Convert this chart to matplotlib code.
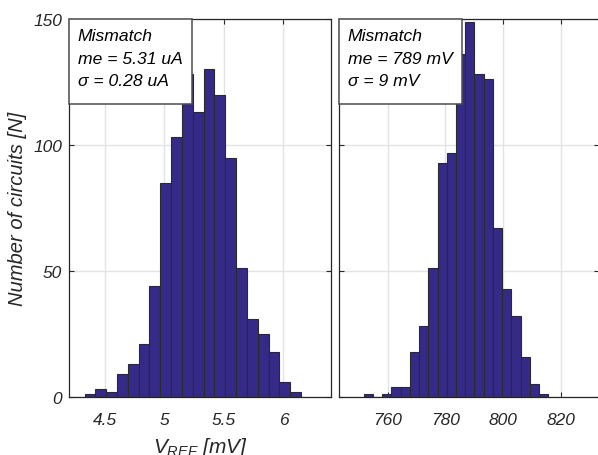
import numpy as np
import matplotlib
matplotlib.use('Agg')
import matplotlib.pyplot as plt
from matplotlib.patches import Rectangle

# ---------------------
# Dados
# ---------------------
# painel esquerdo (20 bins)
bins_esq_ini = 4.328
bins_esq_larg = 0.091
contagem_esq = [1, 3, 2, 9, 13, 21, 44, 85, 103, 128,
                113, 130, 120, 95, 51, 31, 25, 18, 6, 2]
texto_esq = ['Mismatch', 'me = 5.31 uA', 'σ = 0.28 uA']

# painel direito: V_REF em mV (20 bins)
bins_dir_ini = 751.8
bins_dir_larg = 3.19
contagem_dir = [1, 0, 1, 4, 4, 18, 28, 51, 93, 97,
                136, 149, 128, 126, 67, 43, 32, 16, 5, 1]
texto_dir = ['Mismatch', 'me = 789 mV', 'σ = 9 mV']

yticks = [0, 50, 100, 150]
xticks_esq = [4.5, 5, 5.5, 6]
xticks_dir = [760, 780, 800, 820]

plt.rcParams['font.family'] = ['Liberation Sans', 'DejaVu Sans']
plt.rcParams['font.style'] = 'italic'
plt.rcParams['mathtext.fontset'] = 'custom'
plt.rcParams['mathtext.it'] = 'Liberation Sans:italic'
plt.rcParams['mathtext.rm'] = 'Liberation Sans:italic'

COR_BARRA = '#352a87'
COR_TXT = '#262626'

W, H = 598, 456
fig = plt.figure(figsize=(W / 100, H / 100), dpi=100)

def px_axes(x0, x1, y0, y1):
    return fig.add_axes([x0 / W, 1 - y1 / H, (x1 - x0) / W, (y1 - y0) / H])

ax1 = px_axes(69.3, 331, 20, 398)
ax2 = px_axes(339.3, 599, 20, 398)

def desenha(ax, ini, larg, cont, xlim, xticks, txt):
    edges = ini + larg * np.arange(len(cont) + 1)
    ax.hist(edges[:-1], bins=edges, weights=cont, color=COR_BARRA,
            edgecolor='#2a2a2a', linewidth=0.8, zorder=2)
    ax.set_xlim(*xlim)
    ax.set_ylim(0, 150)
    ax.set_xticks(xticks)
    ax.set_xticklabels([f'{t:g}' for t in xticks])
    ax.set_yticks(yticks)
    ax.grid(True, color='#e3e3e3', linewidth=1.0, zorder=0)
    ax.set_axisbelow(True)
    ax.tick_params(direction='in', top=True, right=True, length=3.5,
                   width=0.8, colors=COR_TXT, labelsize=12.5)
    ax.tick_params(axis='x', pad=10.5)
    ax.tick_params(axis='y', pad=5)
    for s in ax.spines.values():
        s.set_color('#262626')
        s.set_linewidth(0.9)
    # caixa de texto colada no canto superior esquerdo
    bw = 123 / (ax.bbox.width)
    bh = 85 / (ax.bbox.height)
    ax.add_patch(Rectangle((0, 1 - bh), bw, bh, transform=ax.transAxes,
                           facecolor='white', edgecolor='#4d4d4d',
                           linewidth=1.1, zorder=5, clip_on=False))
    ax.text(8.5 / ax.bbox.width, 1 - 9.5 / ax.bbox.height, '\n'.join(txt),
            transform=ax.transAxes, ha='left', va='top', fontsize=12.6,
            color='black', linespacing=1.62, zorder=6)

desenha(ax1, bins_esq_ini, bins_esq_larg, contagem_esq, (4.2, 6.4),
        xticks_esq, texto_esq)
desenha(ax2, bins_dir_ini, bins_dir_larg, contagem_dir, (743.3, 833.2),
        xticks_dir, texto_dir)
ax2.set_yticklabels([])

ax1.set_ylabel('Number of circuits [N]', fontsize=14.5, color=COR_TXT,
               labelpad=5)
ax1.set_xlabel('$V_{REF}$ [mV]', fontsize=15, color=COR_TXT, labelpad=6)

fig.savefig('out.png', dpi=100)
